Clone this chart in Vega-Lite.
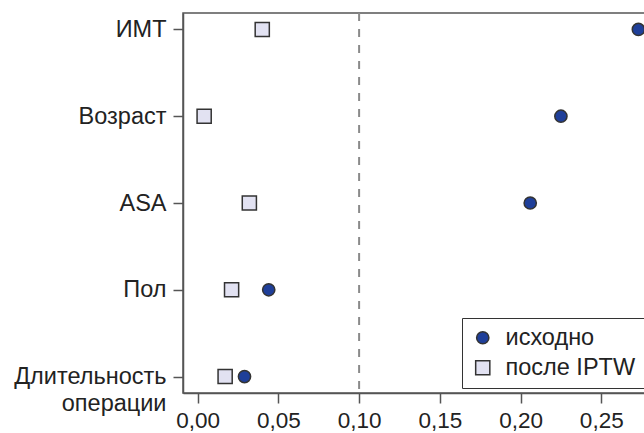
{
  "$schema": "https://vega.github.io/schema/vega-lite/v6.json",
  "width": 462,
  "height": 380,
  "autosize": {"type": "none"},
  "padding": {"left": 183, "top": 13, "right": 0, "bottom": 40},
  "background": "white",
  "config": {
    "font": "Liberation Sans",
    "view": {"stroke": "#555555", "strokeWidth": 1.5},
    "axis": {
      "title": null,
      "labelFont": "Liberation Sans",
      "labelFontSize": 22.5,
      "labelColor": "#222222",
      "tickColor": "#555555",
      "tickSize": 10,
      "tickWidth": 1.5,
      "domainColor": "#555555",
      "domainWidth": 1.5,
      "grid": false
    }
  },
  "datasets": {
    "smd": [
      {"var": "ИМТ", "group": "исходно", "smd": 0.273},
      {"var": "Возраст", "group": "исходно", "smd": 0.225},
      {"var": "ASA", "group": "исходно", "smd": 0.206},
      {"var": "Пол", "group": "исходно", "smd": 0.044},
      {"var": "Длительность операции", "group": "исходно", "smd": 0.029},
      {"var": "ИМТ", "group": "после IPTW", "smd": 0.040},
      {"var": "Возраст", "group": "после IPTW", "smd": 0.004},
      {"var": "ASA", "group": "после IPTW", "smd": 0.032},
      {"var": "Пол", "group": "после IPTW", "smd": 0.021},
      {"var": "Длительность операции", "group": "после IPTW", "smd": 0.017}
    ],
    "ref": [{"smd": 0.1}]
  },
  "layer": [
    {
      "data": {"name": "ref"},
      "mark": {"type": "rule", "color": "#8a8a8a", "strokeDash": [8, 8], "strokeWidth": 2},
      "encoding": {
        "x": {"field": "smd", "type": "quantitative"}
      }
    },
    {
      "data": {"name": "smd"},
      "mark": {"type": "point", "filled": true, "stroke": "#333333", "strokeWidth": 1.5, "opacity": 1},
      "encoding": {
        "x": {
          "field": "smd",
          "type": "quantitative",
          "scale": {"domain": [-0.0091, 0.2771], "nice": false, "zero": false},
          "axis": {
            "values": [0, 0.05, 0.1, 0.15, 0.2, 0.25],
            "labelExpr": "replace(format(datum.value, '.2f'), '.', ',')",
            "labelPadding": 6
          }
        },
        "y": {
          "field": "var",
          "type": "nominal",
          "sort": ["ИМТ", "Возраст", "ASA", "Пол", "Длительность операции"],
          "scale": {"type": "point", "padding": 0.19},
          "axis": {
            "labelFontSize": 23.5,
            "labelPadding": 7,
            "labelLineHeight": 27,
            "labelExpr": "datum.value == 'Длительность операции' ? ['Длительность', 'операции'] : datum.value"
          }
        },
        "color": {
          "field": "group",
          "type": "nominal",
          "scale": {"domain": ["исходно", "после IPTW"], "range": ["#1f3f99", "#e2e2f2"]},
          "legend": {
            "title": null,
            "orient": "none",
            "legendX": 279,
            "legendY": 305,
            "strokeColor": "#333333",
            "fillColor": "white",
            "padding": 8,
            "symbolOffset": 1,
            "labelFontSize": 23.5,
            "labelFont": "Liberation Sans",
            "labelColor": "#222222",
            "labelOffset": 11,
            "rowPadding": 5,
            "symbolStrokeColor": "#333333",
            "symbolStrokeWidth": 1.5
          }
        },
        "shape": {
          "field": "group",
          "type": "nominal",
          "scale": {"domain": ["исходно", "после IPTW"], "range": ["circle", "square"]}
        },
        "size": {
          "field": "group",
          "type": "nominal",
          "scale": {"domain": ["исходно", "после IPTW"], "range": [150, 200]}
        }
      }
    }
  ]
}
